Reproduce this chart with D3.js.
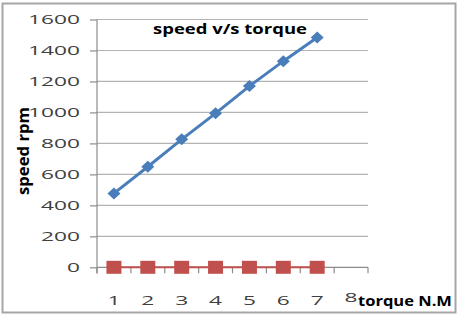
<!DOCTYPE html>
<html><head><meta charset="utf-8">
<script src="https://cdn.jsdelivr.net/npm/d3@7"></script>
<style>body{margin:0;background:#fff}svg{display:block}</style>
</head><body>
<script>
const categories = [1,2,3,4,5,6,7,8];
const speedValues = [477,649,826,994,1170,1331,1484];
const zeroValues = [0,0,0,0,0,0,0];
const yTicks = [0,200,400,600,800,1000,1200,1400,1600];
const titleText = "speed v/s torque";
const xTitle = "torque N.M";
const yTitle = "speed rpm";

const W = 460, H = 316;
const svg = d3.select("body").append("svg").attr("width", W).attr("height", H);
svg.append("rect").attr("x",2.5).attr("y",3.5).attr("width",453).attr("height",309)
  .attr("fill","#fff").attr("stroke","#a6a6a6").attr("stroke-width",2);

const x = d3.scaleBand().domain(categories).range([97, 368]).padding(0);
const y = d3.scaleLinear().domain([0,1600]).range([267.3, 19.5]);
const font = "'Open Sans', 'Liberation Sans', sans-serif";

// gridlines
svg.append("g").selectAll("line").data(yTicks.filter(d=>d>0)).join("line")
  .attr("x1",97).attr("x2",368).attr("y1",d=>y(d)).attr("y2",d=>y(d))
  .attr("stroke","#b3b3b3").attr("stroke-width",1.2);

// y axis
const yAxis = svg.append("g").attr("transform","translate(97,0)")
  .call(d3.axisLeft(y).tickValues(yTicks).tickSize(7).tickPadding(10).tickFormat(d3.format("d")));
yAxis.select(".domain").attr("stroke","#8c8c8c").attr("stroke-width",1.2).attr("d","M0,273.5V19.5");
yAxis.selectAll(".tick line").attr("stroke","#8c8c8c").attr("stroke-width",1.2);
yAxis.selectAll(".tick text").attr("font-family",font).attr("font-size",13.5).attr("fill","#404040");

// x axis
const xAxis = svg.append("g").attr("transform","translate(0,267.3)")
  .call(d3.axisBottom(x).tickSize(0).tickPadding(0));
xAxis.select(".domain").attr("stroke","#8c8c8c").attr("stroke-width",1.2).attr("d","M97,0H368");
xAxis.selectAll(".tick line").remove();
const bounds = categories.map(c=>x(c)).concat([x(8)+x.bandwidth()]);
xAxis.selectAll("line.bt").data(bounds).join("line").attr("class","bt")
  .attr("x1",d=>d).attr("x2",d=>d).attr("y1",0).attr("y2",6)
  .attr("stroke","#8c8c8c").attr("stroke-width",1.2);
xAxis.selectAll(".tick text").attr("font-family",font).attr("font-size",13.5).attr("fill","#404040")
  .attr("y",38).attr("dy",0);
xAxis.selectAll(".tick").filter(d=>d===8).select("text").attr("y",35);

// stretch numeric labels horizontally
function stretch(sel, s){
  sel.each(function(){
    const t = d3.select(this);
    const tx = +t.attr("x")||0, ty = +t.attr("y")||0, dy = t.attr("dy");
    t.attr("transform",`translate(${tx},${ty}) scale(${s},1)`).attr("x",0).attr("y",0);
  });
}
let ref = yAxis.selectAll(".tick text").filter(d=>d===1600).node().getComputedTextLength();
const s = 52/ref;
stretch(yAxis.selectAll(".tick text"), s);
stretch(xAxis.selectAll(".tick text"), s);

// series
const cx = (d,i)=>x(categories[i]) + x.bandwidth()/2;
const line = d3.line().x(cx).y(d=>y(d));
svg.append("path").datum(zeroValues).attr("d",line).attr("fill","none")
  .attr("stroke","#c0504d").attr("stroke-width",2);
svg.append("g").selectAll("rect").data(zeroValues).join("rect")
  .attr("x",(d,i)=>cx(d,i)-7.5).attr("y",d=>y(d)-6.5).attr("width",15).attr("height",13)
  .attr("fill","#c0504d");
svg.append("path").datum(speedValues).attr("d",line).attr("fill","none")
  .attr("stroke","#4a7ebb").attr("stroke-width",3);
svg.append("g").selectAll("path").data(speedValues).join("path")
  .attr("d",(d,i)=>{const X=cx(d,i),Y=y(d);return `M${X-6.5},${Y}L${X},${Y-6}L${X+6.5},${Y}L${X},${Y+6}Z`;})
  .attr("fill","#4a7ebb");

// titles
function fitText(t, w){
  const l = t.node().getComputedTextLength();
  const tx=+t.attr("x"), ty=+t.attr("y");
  t.attr("x",0).attr("y",0).attr("transform",`translate(${tx},${ty}) scale(${w/l},1)`);
}
const tt = svg.append("text").attr("x",153).attr("y",33.5).text(titleText)
  .attr("font-family",font).attr("font-weight","bold").attr("font-size",15).attr("fill","#000");
fitText(tt,154);
const xt = svg.append("text").attr("x",358).attr("y",305.5).text(xTitle)
  .attr("font-family",font).attr("font-weight","bold").attr("font-size",15).attr("fill","#000");
fitText(xt,94);
const yt = svg.append("text").attr("font-family",font).attr("font-weight","bold").attr("font-size",14)
  .attr("fill","#000").attr("text-anchor","middle").text(yTitle)
  .attr("transform","translate(28.5,151) rotate(-90)");
const yl = yt.node().getComputedTextLength();
yt.attr("transform",`translate(28.5,151) rotate(-90) scale(${88/yl},1.2)`);
</script>
</body></html>
